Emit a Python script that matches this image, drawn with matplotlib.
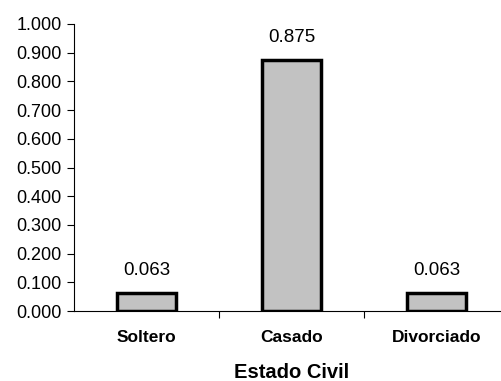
import matplotlib
matplotlib.use('Agg')
import matplotlib.pyplot as plt
import numpy as np

categorias = ['Soltero', 'Casado', 'Divorciado']
valores = [0.063, 0.875, 0.063]
yticks = [0.0, 0.1, 0.2, 0.3, 0.4, 0.5, 0.6, 0.7, 0.8, 0.9, 1.0]

plt.rcParams['font.family'] = ['Liberation Sans', 'DejaVu Sans']

fig = plt.figure(figsize=(5.02, 3.81), dpi=100)
ax = fig.add_axes([74/502, 70/381, 435/502, 287/381])

x = np.arange(len(categorias))
ax.bar(x, valores, width=0.41, color='#c2c2c2', edgecolor='black', linewidth=2.5)

for xi, v in zip(x, valores):
    ax.annotate('%.3f' % v, (xi, v), textcoords='offset points', xytext=(0, 10),
                ha='center', va='bottom', fontsize=13.5)

ax.set_xlim(-0.5, 2.5)
ax.set_ylim(0, 1.0)
ax.set_yticks(yticks)
ax.set_yticklabels(['%.3f' % t for t in yticks], fontsize=13)
ax.set_xticks([0.5, 1.5])
ax.set_xticklabels([])
ax.tick_params(axis='x', length=5, width=0.8, direction='out')
ax.tick_params(axis='y', length=5, width=0.8, direction='out', pad=4)

for xi, c in zip(x, categorias):
    ax.text(xi, -0.092, c, ha='center', va='center', fontsize=12.5, fontweight='bold',
            transform=ax.get_xaxis_transform())
ax.text(1, -0.216, 'Estado Civil', ha='center', va='center', fontsize=14.5, fontweight='bold',
        transform=ax.get_xaxis_transform())

ax.spines['top'].set_visible(False)
ax.spines['right'].set_visible(False)
ax.spines['left'].set_linewidth(0.8)
ax.spines['bottom'].set_linewidth(0.8)

fig.savefig('out.png', dpi=100)
